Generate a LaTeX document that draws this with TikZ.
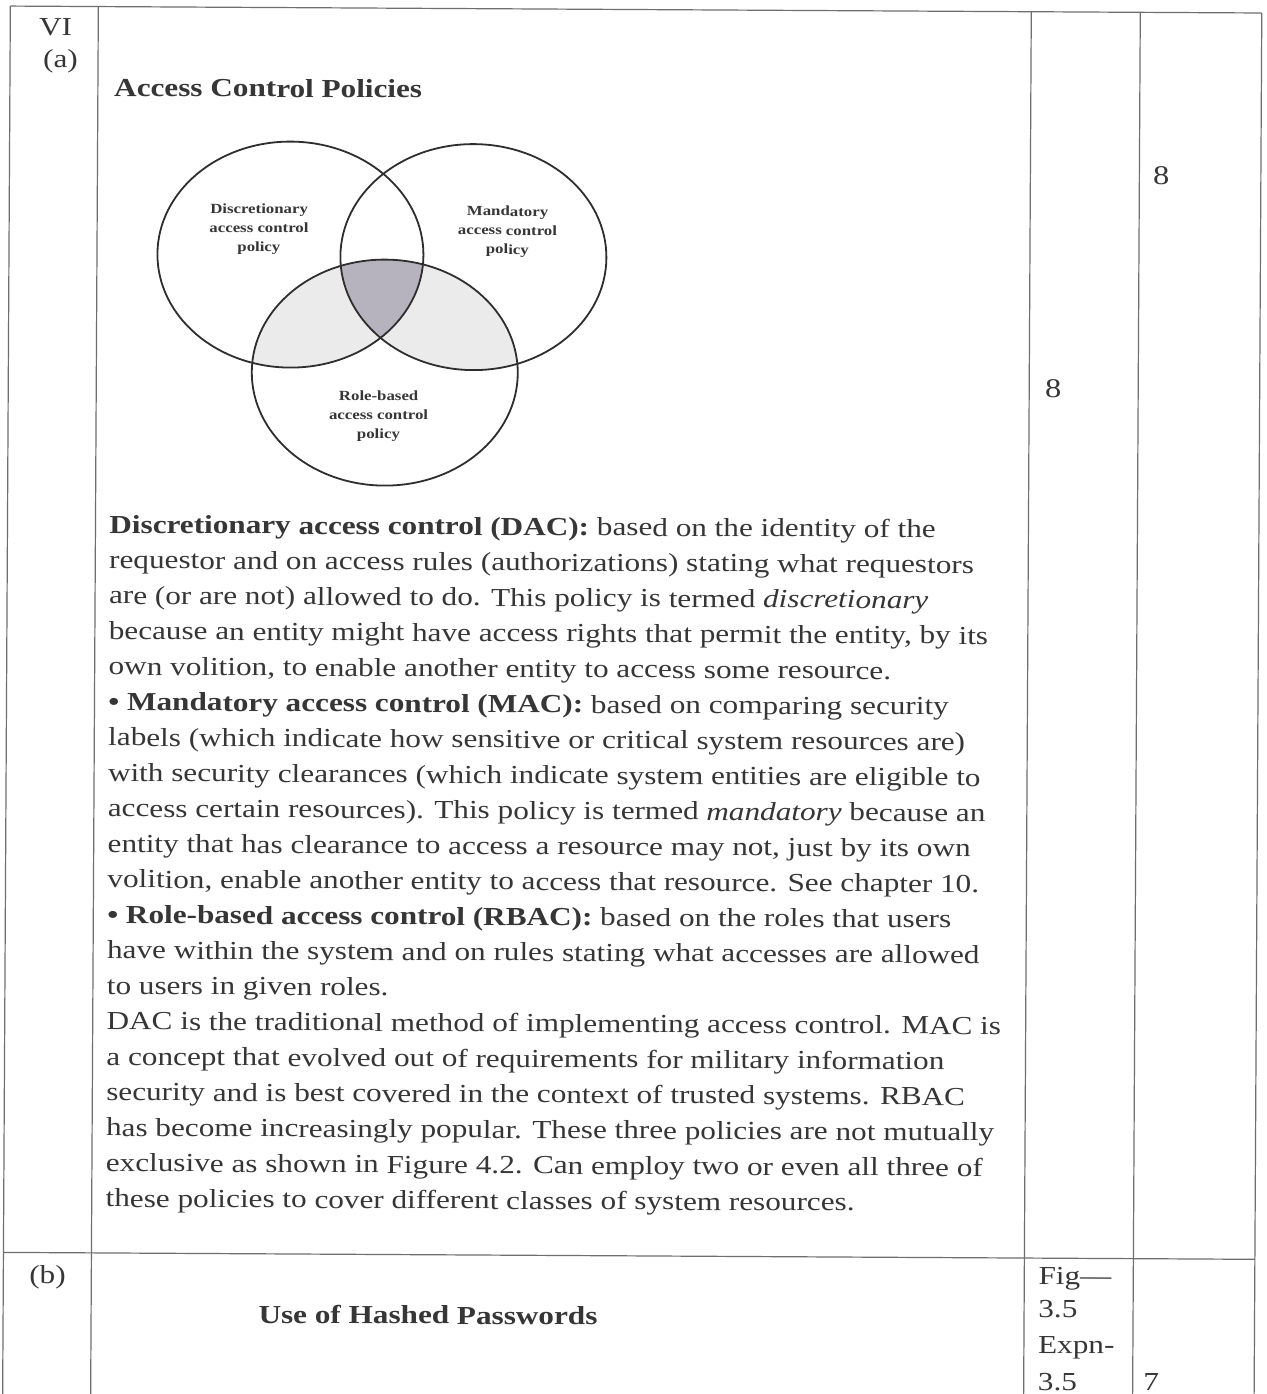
\documentclass[tikz,border=0pt]{standalone}
\usepackage{fontspec}
\setmainfont{Liberation Serif}[FakeStretch=1.2]
\definecolor{ink}{HTML}{363636}
\definecolor{rule}{HTML}{6E6E6E}
\definecolor{vennline}{HTML}{2E2E2E}
\definecolor{pairfill}{HTML}{EBEBEB}
\definecolor{triplefill}{HTML}{B6B3BF}
\begin{document}
\begin{tikzpicture}[x=1pt,y=-1pt,
  rulestyle/.style={draw=rule,line width=1.2pt},
  venn/.style={draw=vennline,line width=1.8pt},
  body/.style={anchor=base west,inner sep=0pt,text=ink,font=\fontsize{26}{30}\selectfont},
  cell/.style={anchor=base west,inner sep=0pt,text=ink,font=\fontsize{27}{30}\selectfont},
  heading/.style={anchor=base west,inner sep=0pt,text=ink,font=\fontsize{26}{30}\selectfont\bfseries},
  vlab/.style={anchor=base,inner sep=0pt,text=ink,font=\fontsize{14}{17}\selectfont\bfseries},
  ell/.style={x radius=133pt,y radius=113pt}]
\useasboundingbox (0,0) rectangle (1266,1394);
\clip (0,0) rectangle (1266,1394);
\fill[white] (0,0) rectangle (1266,1394);

\begin{scope}[rotate around={-0.318:(633,697)},transform shape]
  % table grid
  \coordinate (tl) at (6.5,9.5);
  \coordinate (tr) at (1258,9.5);
  \coordinate (ml) at (6.5,1256);
  \coordinate (mr) at (1258,1256);
  \draw[rulestyle] (tl) -- (tr);
  \draw[rulestyle] (ml) -- (mr);
  \foreach \cx in {6.5,94.5,1027.5,1136.5,1258}
    \draw[rulestyle] (\cx,9.5) -- (\cx,1420);

  % first column / mark columns
  \node[body] (qno) at (35.3,38.3) {VI};
  \node[body] (qa) at (39.5,70.3) {(a)};
  \node[body] (qb) at (32.3,1286.4) {(b)};
  \node[cell] (marksA) at (1150.2,182.1) {8};
  \node[cell] (marksB) at (1043.3,395.7) {8};

  % heading of part (a)
  \node[heading] (titleA) at (110.7,99) {Access Control Policies};

  % Venn diagram of the three policies
  \coordinate (cD) at (288,256.5);
  \coordinate (cM) at (471,258);
  \coordinate (cR) at (383,374);
  \begin{scope}
    \clip (cD) ellipse [ell];
    \fill[pairfill] (cR) ellipse [ell];
  \end{scope}
  \begin{scope}
    \clip (cM) ellipse [ell];
    \fill[pairfill] (cR) ellipse [ell];
  \end{scope}
  \begin{scope}
    \clip (cD) ellipse [ell];
    \clip (cM) ellipse [ell];
    \fill[triplefill] (cR) ellipse [ell];
  \end{scope}
  \draw[venn] (cD) ellipse [ell];
  \draw[venn] (cM) ellipse [ell];
  \draw[venn] (cR) ellipse [ell];

  \node[vlab] (dacA) at (256.4,215.4) {Discretionary};
  \node[vlab] (dacB) at (256.4,234.8) {access control};
  \node[vlab] (dacC) at (256.4,253.8) {policy};
  \node[vlab] (macA) at (504.9,216.7) {Mandatory};
  \node[vlab] (macB) at (504.9,235.7) {access control};
  \node[vlab] (macC) at (504.9,254.7) {policy};
  \node[vlab] (rbacA) at (377,402.1) {Role-based};
  \node[vlab] (rbacB) at (377,420.7) {access control};
  \node[vlab] (rbacC) at (377,439.7) {policy};

  % explanation text
  \node[body] (l1) at (108.3,535.9) {\textbf{Discretionary access control (DAC):} based on the identity of the};
  \node[body] (l2) at (108.3,571.4) {requestor and on access rules (authorizations) stating what requestors};
  \node[body] (l3) at (108.3,606.8) {are (or are not) allowed to do. This policy is termed \textit{discretionary}};
  \node[body] (l4) at (108.3,642.3) {because an entity might have access rights that permit the entity, by its};
  \node[body] (l5) at (108.3,677.8) {own volition, to enable another entity to access some resource.};
  \node[body] (l6) at (108.3,713.3) {\textbf{• Mandatory access control (MAC):} based on comparing security};
  \node[body] (l7) at (108.3,748.7) {labels (which indicate how sensitive or critical system resources are)};
  \node[body] (l8) at (108.3,784.2) {with security clearances (which indicate system entities are eligible to};
  \node[body] (l9) at (108.3,819.7) {access certain resources). This policy is termed \textit{mandatory} because an};
  \node[body] (l10) at (108.3,855.1) {entity that has clearance to access a resource may not, just by its own};
  \node[body] (l11) at (108.3,890.6) {volition, enable another entity to access that resource. See chapter 10.};
  \node[body] (l12) at (108.3,926.1) {\textbf{• Role-based access control (RBAC):} based on the roles that users};
  \node[body] (l13) at (108.3,961.5) {have within the system and on rules stating what accesses are allowed};
  \node[body] (l14) at (108.3,997.0) {to users in given roles.};
  \node[body] (l15) at (108.3,1032.5) {DAC is the traditional method of implementing access control. MAC is};
  \node[body] (l16) at (108.3,1068.0) {a concept that evolved out of requirements for military information};
  \node[body] (l17) at (108.3,1103.4) {security and is best covered in the context of trusted systems. RBAC};
  \node[body] (l18) at (108.3,1138.9) {has become increasingly popular. These three policies are not mutually};
  \node[body] (l19) at (108.3,1174.4) {exclusive as shown in Figure 4.2. Can employ two or even all three of};
  \node[body] (l20) at (108.3,1209.8) {these policies to cover different classes of system resources.};

  % part (b)
  \node[heading] (titleB) at (261.8,1325.1) {Use of Hashed Passwords};
  \node[body] (figA) at (1041.6,1281.8) {Fig—};
  \node[body] (figB) at (1041.6,1315.3) {3.5};
  \node[body] (figC) at (1041.6,1350.8) {Expn-};
  \node[body] (figD) at (1041.6,1388.3) {3.5};
  \node[body] (marksC) at (1146.9,1387.7) {7};
\end{scope}
\end{tikzpicture}
\end{document}
